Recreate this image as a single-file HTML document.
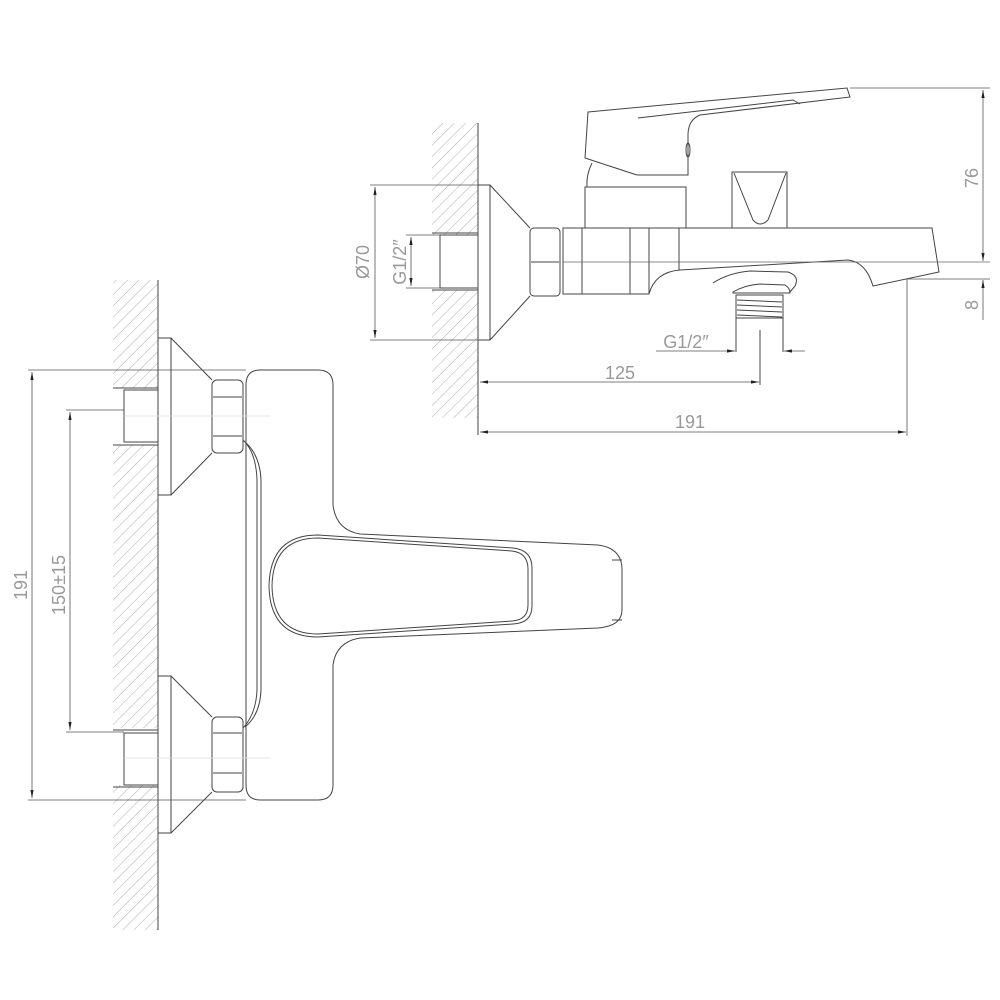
<!DOCTYPE html>
<html><head><meta charset="utf-8"><style>
html,body{margin:0;padding:0;background:#fff}
svg{display:block}
text{font-family:"Liberation Sans",sans-serif;fill:#999;font-size:18px}
</style></head><body>
<svg width="1000" height="1000" viewBox="0 0 1000 1000" xmlns="http://www.w3.org/2000/svg">
<defs>
<pattern id="h" patternUnits="userSpaceOnUse" width="8" height="8" patternTransform="rotate(45)">
<line x1="0" y1="0" x2="0" y2="8" stroke="#999" stroke-width="0.8"/>
</pattern>
<marker id="a" viewBox="0 0 10 6" refX="10" refY="3" markerWidth="10" markerHeight="6" orient="auto-start-reverse"><path d="M0,1 L10,3 L0,5z" fill="#222"/></marker>
</defs>
<g fill="none" stroke="#444" stroke-width="1">
<rect x="113" y="280" width="45" height="108" fill="url(#h)" stroke="none"/>
<rect x="113" y="445" width="45" height="283" fill="url(#h)" stroke="none"/>
<rect x="113" y="785" width="45" height="145" fill="url(#h)" stroke="none"/>
<line x1="158" y1="280" x2="158" y2="930"/>
<rect x="124" y="390" width="34" height="52"/>
<line x1="113" y1="388" x2="158" y2="388"/><line x1="113" y1="445" x2="158" y2="445"/>
<rect x="158" y="338" width="13" height="157"/>
<polyline points="171,338 212,380"/><polyline points="171,495 212,453"/>
<rect x="212" y="380" width="31" height="73" rx="5"/>
<line x1="213" y1="397" x2="242" y2="397"/><line x1="213" y1="436" x2="242" y2="436"/>
<rect x="124" y="733" width="34" height="52"/>
<line x1="113" y1="730" x2="158" y2="730"/><line x1="113" y1="787" x2="158" y2="787"/>
<rect x="158" y="676" width="13" height="157"/>
<polyline points="171,676 212,717"/><polyline points="171,833 212,792"/>
<rect x="212" y="717" width="31" height="75" rx="5"/>
<line x1="213" y1="733" x2="242" y2="733"/><line x1="213" y1="773" x2="242" y2="773"/>
<path d="M260,370 H318 Q333,370 333,385 V505 Q336,530 360,534 L598,545 Q622,548 622,570 V610 Q622,626 598,628 L360,638 Q336,642 333,665 V785 Q333,800 318,800 H260 Q246,800 246,785 V385 Q246,370 260,370 Z"/>
<path d="M245,442 Q260,455 261,480 V690 Q260,715 245,727"/>
<path d="M243,440 Q256,452 257,480 V690 Q256,714 243,728"/>
<path d="M318,535 L513,548 Q532,550 532,568 V606 Q532,623 513,624 L318,637 Q270,637 269,586 Q270,535 318,535 Z"/>
<path d="M318,538 L512,551 Q528,553 528,569 V605 Q528,620 512,621 L318,634 Q273,634 272,586 Q273,538 318,538 Z"/>
<line x1="612" y1="560" x2="622" y2="560"/><line x1="612" y1="620" x2="622" y2="620"/>
</g>
<g fill="none" stroke="#555" stroke-width="0.8">
<line x1="28" y1="370" x2="246" y2="370"/><line x1="28" y1="800" x2="246" y2="800"/>
<line x1="32" y1="372" x2="32" y2="798" marker-start="url(#a)" marker-end="url(#a)"/>
<line x1="66" y1="410" x2="124" y2="410"/><line x1="66" y1="732" x2="124" y2="732"/>
<line x1="70" y1="412" x2="70" y2="730" marker-start="url(#a)" marker-end="url(#a)"/>
<line x1="124" y1="416" x2="270" y2="416" stroke="#ddd"/><line x1="124" y1="758" x2="270" y2="758" stroke="#ddd"/>
</g>
<text transform="translate(27,585) rotate(-90)" text-anchor="middle">191</text>
<text transform="translate(65,585) rotate(-90)" text-anchor="middle">150±15</text>

<g fill="none" stroke="#444" stroke-width="1">
<rect x="432" y="123" width="46" height="112" fill="url(#h)" stroke="none"/>
<rect x="432" y="290" width="46" height="128" fill="url(#h)" stroke="none"/>
<line x1="478" y1="123" x2="478" y2="435"/>
<rect x="440" y="235" width="38" height="53"/>
<line x1="432" y1="233" x2="478" y2="233"/><line x1="432" y1="290" x2="478" y2="290"/>
<rect x="478" y="185" width="12" height="155"/>
<line x1="490" y1="185" x2="530" y2="228"/><line x1="490" y1="340" x2="530" y2="296"/>
<rect x="530" y="228" width="30" height="68" rx="4"/>
<line x1="531" y1="262" x2="559" y2="262"/>
<path d="M563,228 H932 L939,272 L873,286 Q866,262 848,260 L680,270 Q655,272 649,294 H563 Z"/>
<line x1="582" y1="228" x2="582" y2="294"/>
<line x1="630" y1="228" x2="630" y2="294"/>
<line x1="649" y1="228" x2="649" y2="294"/>
<line x1="679" y1="228" x2="679" y2="270"/>
<line x1="563" y1="262" x2="990" y2="262" stroke="#666" stroke-width="0.8"/>
<path d="M713,283 Q728,273 750,271 L788,272 Q800,276 795,286 L790,292"/>
<path d="M733,292 Q745,285 760,284 L785,285 Q790,288 790,293 H733 Z"/>
<rect x="736" y="295" width="47" height="23"/>
<line x1="737" y1="300" x2="782" y2="302"/><line x1="737" y1="305" x2="782" y2="307"/><line x1="737" y1="310" x2="782" y2="312"/><line x1="737" y1="315" x2="782" y2="317"/>
<line x1="736" y1="318" x2="736" y2="352"/><line x1="783" y1="318" x2="783" y2="352"/>
<line x1="760" y1="330" x2="760" y2="385"/>
<rect x="585" y="187" width="101" height="41"/>
<path d="M592,163 Q586,175 587,187"/>
<path d="M588,112 L847,88 L850,97 L700,115 Q688,120 688,135 V175 H637 L585,158 Z"/>
<path d="M638,118 L793,100 L800,104"/>
<ellipse cx="688" cy="150" rx="2" ry="7"/>
<rect x="732" y="172" width="55" height="56"/>
<path d="M734,173 L753,220 Q760,228 768,220 L786,173"/>
</g>
<g fill="none" stroke="#555" stroke-width="0.8">
<line x1="370" y1="185" x2="478" y2="185"/><line x1="370" y1="340" x2="478" y2="340"/>
<line x1="375" y1="187" x2="375" y2="338" marker-start="url(#a)" marker-end="url(#a)"/>
<line x1="406" y1="235" x2="440" y2="235"/><line x1="406" y1="288" x2="440" y2="288"/>
<line x1="411" y1="237" x2="411" y2="286" marker-start="url(#a)" marker-end="url(#a)"/>
<line x1="656" y1="351" x2="735" y2="351" marker-end="url(#a)"/>
<line x1="805" y1="351" x2="784" y2="351" marker-end="url(#a)"/>
<line x1="480" y1="382" x2="759" y2="382" marker-start="url(#a)" marker-end="url(#a)"/>
<line x1="907" y1="279" x2="907" y2="436"/>
<line x1="480" y1="432" x2="906" y2="432" marker-start="url(#a)" marker-end="url(#a)"/>
<line x1="850" y1="88" x2="990" y2="88"/>
<line x1="907" y1="279" x2="990" y2="279"/>
<line x1="983" y1="90" x2="983" y2="261" marker-start="url(#a)" marker-end="url(#a)"/>
<line x1="983" y1="320" x2="983" y2="280" marker-end="url(#a)"/>
</g>
<text transform="translate(369,262) rotate(-90)" text-anchor="middle">Ø70</text>
<text transform="translate(406,262) rotate(-90)" text-anchor="middle">G1/2″</text>
<text x="686" y="348" text-anchor="middle">G1/2″</text>
<text x="620" y="379" text-anchor="middle">125</text>
<text x="690" y="428" text-anchor="middle">191</text>
<text transform="translate(978,178) rotate(-90)" text-anchor="middle">76</text>
<text transform="translate(978,305) rotate(-90)" text-anchor="middle">8</text>
</svg>
</body></html>
